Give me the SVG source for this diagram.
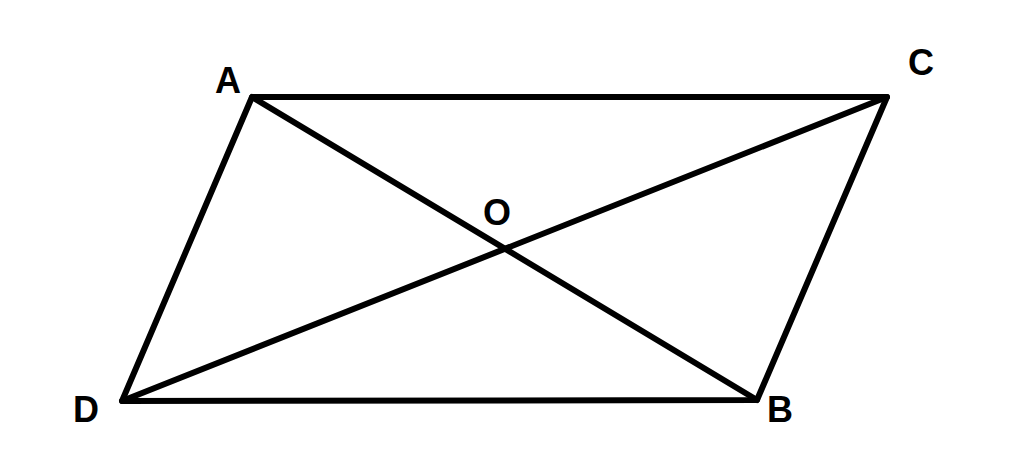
<svg xmlns="http://www.w3.org/2000/svg" width="1024" height="459" viewBox="0 0 1024 459">
<style>
.e{stroke:#000;stroke-width:6;stroke-linecap:round;stroke-linejoin:round;fill:none}
.l{font-family:"Liberation Sans",Arial,sans-serif;font-weight:bold;font-size:36px;fill:#000;text-anchor:middle}
</style>
<rect width="1024" height="459" fill="#fff"/>
<g id="edges">
<path class="e" d="M252,97 L887,97 L757,400 L122,401 Z"/>
<line class="e" x1="252" y1="97" x2="757" y2="400"/>
<line class="e" x1="887" y1="97" x2="122" y2="401"/>
</g>
<g id="A"><text class="l" x="228" y="93">A</text></g>
<g id="C"><text class="l" x="921" y="75">C</text></g>
<g id="O"><text class="l" x="497" y="225">O</text></g>
<g id="D"><text class="l" x="86" y="422">D</text></g>
<g id="B"><text class="l" x="780" y="422">B</text></g>
</svg>
